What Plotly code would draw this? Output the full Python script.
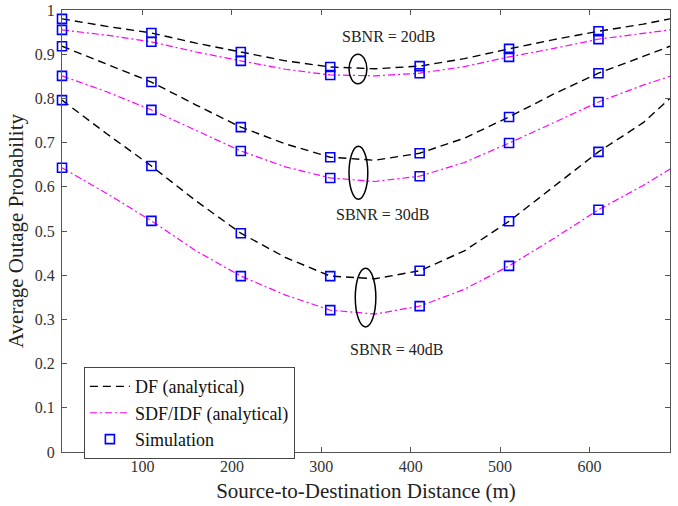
import plotly.graph_objects as go

# Analytical curve sample distances (m)
x_curve = [10, 60, 110, 160, 210, 260, 310, 360, 410, 460, 510, 560, 610, 660, 690]
df20 = [0.980, 0.963, 0.948, 0.925, 0.905, 0.885, 0.871, 0.867, 0.873, 0.890, 0.912, 0.933, 0.952, 0.968, 0.980]
sdf20 = [0.955, 0.943, 0.928, 0.905, 0.885, 0.866, 0.853, 0.851, 0.857, 0.872, 0.894, 0.913, 0.934, 0.947, 0.955]
df30 = [0.918, 0.878, 0.837, 0.785, 0.735, 0.697, 0.667, 0.660, 0.676, 0.710, 0.758, 0.810, 0.857, 0.895, 0.918]
sdf30 = [0.851, 0.815, 0.774, 0.728, 0.681, 0.645, 0.620, 0.612, 0.624, 0.655, 0.699, 0.745, 0.792, 0.830, 0.850]
df40 = [0.796, 0.720, 0.647, 0.568, 0.495, 0.440, 0.398, 0.392, 0.410, 0.455, 0.522, 0.600, 0.679, 0.745, 0.800]
sdf40 = [0.643, 0.585, 0.523, 0.455, 0.398, 0.355, 0.321, 0.312, 0.330, 0.368, 0.421, 0.483, 0.548, 0.603, 0.640]

# Simulation points
x_sim = [10, 110, 210, 310, 410, 510, 610]
sim_series = [
    [0.980, 0.948, 0.905, 0.871, 0.873, 0.912, 0.952],
    [0.955, 0.928, 0.885, 0.853, 0.857, 0.894, 0.934],
    [0.918, 0.837, 0.735, 0.667, 0.676, 0.758, 0.857],
    [0.851, 0.774, 0.681, 0.620, 0.624, 0.699, 0.792],
    [0.796, 0.647, 0.495, 0.398, 0.410, 0.522, 0.679],
    [0.643, 0.523, 0.398, 0.321, 0.330, 0.421, 0.548],
]

x_ticks = [100, 200, 300, 400, 500, 600]
y_ticks = [0, 0.1, 0.2, 0.3, 0.4, 0.5, 0.6, 0.7, 0.8, 0.9, 1]
y_tick_text = ["0", "0.1", "0.2", "0.3", "0.4", "0.5", "0.6", "0.7", "0.8", "0.9", "1"]

FONT = "Liberation Serif"
fig = go.Figure()

for i, ys in enumerate([df20, df30, df40]):
    fig.add_trace(go.Scatter(x=x_curve, y=ys, mode="lines", name="DF (analytical)",
                             line=dict(color="black", dash="8px,5px", width=1.4),
                             legendgroup="df", showlegend=(i == 0)))
for i, ys in enumerate([sdf20, sdf30, sdf40]):
    fig.add_trace(go.Scatter(x=x_curve, y=ys, mode="lines", name="SDF/IDF (analytical)",
                             line=dict(color="#ff00ff", dash="7px,3px,2px,3px", width=1.2),
                             legendgroup="sdf", showlegend=(i == 0)))
for i, ys in enumerate(sim_series):
    fig.add_trace(go.Scatter(x=x_sim, y=ys, mode="markers", name="Simulation",
                             marker=dict(symbol="square-open", size=9, color="#0000ff",
                                         line=dict(width=1.6, color="#0000ff")),
                             legendgroup="sim", showlegend=(i == 0), cliponaxis=False))

# ellipses
for (x0, x1, y0, y1) in [(331, 351, 0.833, 0.900), (331, 352, 0.572, 0.692), (338, 361, 0.283, 0.416)]:
    fig.add_shape(type="circle", xref="x", yref="y", x0=x0, x1=x1, y0=y0, y1=y1,
                  line=dict(color="black", width=1.5))

for txt, xx, yy in [("SBNR = 20dB", 376, 0.941), ("SBNR = 30dB", 369, 0.538), ("SBNR = 40dB", 385, 0.231)]:
    fig.add_annotation(x=xx, y=yy, text=txt, showarrow=False, xref="x", yref="y",
                       font=dict(family=FONT, size=16, color="#222222"))

axis_common = dict(showgrid=False, zeroline=False, showline=True, linecolor="#555555", linewidth=1,
                   mirror="ticks", ticks="inside", ticklen=5, tickcolor="#555555", automargin=False,
                   tickfont=dict(family=FONT, size=16, color="#333333"))

fig.update_xaxes(range=[10, 690], tickvals=x_ticks,
                 title=dict(text="Source-to-Destination Distance (m)", font=dict(family=FONT, size=21, color="#222222"), standoff=9),
                 **axis_common)
fig.update_yaxes(range=[0, 1], tickvals=y_ticks, ticktext=y_tick_text, ticklabelstandoff=3,
                 title=dict(text="Average Outage Probability", font=dict(family=FONT, size=21, color="#222222"), standoff=5),
                 **axis_common)

fig.update_layout(
    width=678, height=506,
    margin=dict(l=62, r=8, t=10, b=54),
    plot_bgcolor="white", paper_bgcolor="white",
    legend=dict(x=0.036, y=0.192, xanchor="left", yanchor="top",
                bgcolor="white", bordercolor="#444444", borderwidth=1,
                font=dict(family=FONT, size=18, color="#111111"),
                tracegroupgap=0, itemwidth=40),
)

fig.write_html("out.html")
